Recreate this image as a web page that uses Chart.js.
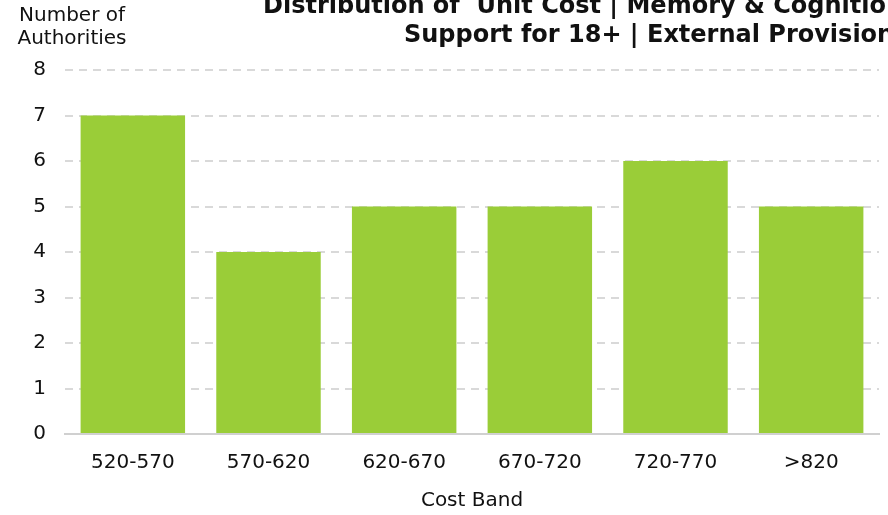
<!DOCTYPE html>
<html>
<head>
<meta charset="utf-8">
<script src="https://cdn.jsdelivr.net/npm/chart.js@4"></script>
<style>
  html, body { margin: 0; padding: 0; background: #fff; }
  #wrap { width: 888px; height: 515px; }
</style>
</head>
<body>
<div id="wrap"><canvas id="costBandChart" width="888" height="515"></canvas></div>
<script>
const costBands = ['520-570', '570-620', '620-670', '670-720', '720-770', '>820'];
const authorityCounts = [7, 4, 5, 5, 6, 5];
const yTicks = [0, 1, 2, 3, 4, 5, 6, 7, 8];
const titleLines = ['Distribution of  Unit Cost | Memory & Cognition', 'Support for 18+ | External Provision'];
const yTitleLines = ['Number of', 'Authorities'];
const xTitle = 'Cost Band';

const palette = {
  bar: '#9acd38',
  grid: '#d9d9d9',
  axis: '#d0d0d0',
  text: '#111111'
};
const fontFamily = '"DejaVu Sans", Verdana, sans-serif';

// title and y-axis caption sit outside the chart area, so draw them by hand
const headerText = {
  id: 'headerText',
  afterDraw(chart) {
    const { ctx } = chart;
    ctx.save();
    ctx.fillStyle = palette.text;
    ctx.textBaseline = 'alphabetic';

    // the source title runs off the right edge, so lines are placed by their left edge
    ctx.textAlign = 'left';
    ctx.font = `bold 24px ${fontFamily}`;
    ctx.fillText(titleLines[0], 263, 13);
    ctx.fillText(titleLines[1], 404, 42);

    ctx.textAlign = 'center';
    ctx.font = `20px ${fontFamily}`;
    ctx.fillText(yTitleLines[0], 72, 21);
    ctx.fillText(yTitleLines[1], 72, 44);
    ctx.restore();
  }
};

new Chart(document.getElementById('costBandChart'), {
  type: 'bar',
  data: {
    labels: costBands,
    datasets: [{
      label: 'Authorities',
      data: authorityCounts,
      backgroundColor: palette.bar,
      categoryPercentage: 1,
      barPercentage: 0.77
    }]
  },
  options: {
    responsive: false,
    animation: false,
    layout: { padding: { top: 70, right: 9, left: 0, bottom: 0 } },
    plugins: {
      legend: { display: false },
      tooltip: { enabled: false }
    },
    scales: {
      x: {
        grid: { display: false },
        border: { display: true, color: palette.axis, width: 2 },
        ticks: {
          color: palette.text,
          padding: 9,
          font: { family: fontFamily, size: 20 }
        },
        title: {
          display: true,
          text: xTitle,
          color: palette.text,
          padding: { top: 0, bottom: 2 },
          font: { family: fontFamily, size: 20 }
        },
        afterFit: (scale) => { scale.height = 81; }
      },
      y: {
        min: 0,
        max: 8,
        afterBuildTicks: (scale) => {
          scale.ticks = yTicks.map((v) => ({ value: v }));
        },
        grid: {
          drawTicks: false,
          lineWidth: 2,
          color: (c) => (c.tick && c.tick.value === 0 ? 'rgba(0,0,0,0)' : palette.grid)
        },
        border: { display: false, dash: [8, 6] },
        ticks: {
          color: palette.text,
          padding: 19,
          font: { family: fontFamily, size: 20 }
        },
        afterFit: (scale) => { scale.width = 65; }
      }
    }
  },
  plugins: [headerText]
});
</script>
</body>
</html>
